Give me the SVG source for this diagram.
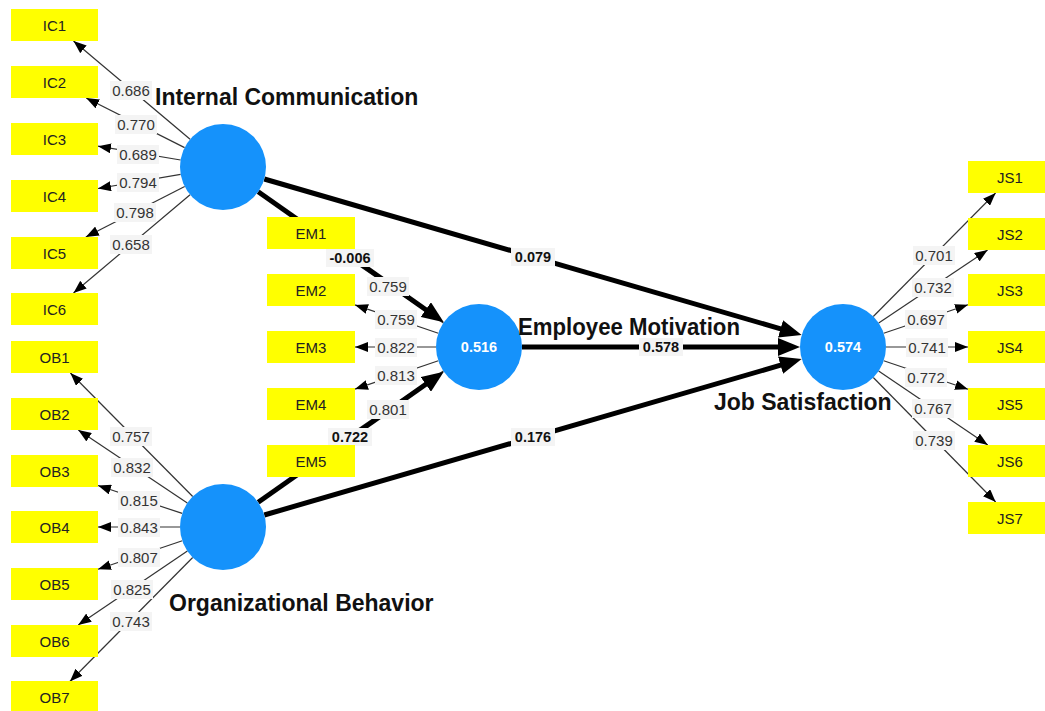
<svg xmlns="http://www.w3.org/2000/svg" width="1045" height="711" viewBox="0 0 1045 711">
<style>
.thin{stroke:#333;stroke-width:1.2;fill:none;marker-end:url(#ah)}
.thick{stroke:#000;stroke-width:5;fill:none;marker-end:url(#ahb)}
.ind{fill:#ffff00}
.it{font-family:"Liberation Sans",Arial,sans-serif;font-size:15px;fill:#222;text-anchor:middle}
.lv{fill:#1592fb}
.lvt{font-family:"Liberation Sans",Arial,sans-serif;font-size:14.5px;font-weight:bold;fill:#fff;text-anchor:middle}
.name{font-family:"Liberation Sans",Arial,sans-serif;font-size:23px;font-weight:bold;fill:#111}
.lb{fill:#f4f4f4}
.lt{font-family:"Liberation Sans",Arial,sans-serif;font-size:15px;fill:#333;text-anchor:middle}
.pt{font-family:"Liberation Sans",Arial,sans-serif;font-size:14.5px;font-weight:bold;fill:#111;text-anchor:middle}
</style>
<defs>
<marker id="ah" markerUnits="userSpaceOnUse" markerWidth="13" markerHeight="10" viewBox="0 0 13 10" refX="13" refY="5" orient="auto"><path d="M0,0L13,5L0,10z" fill="#000"/></marker>
<marker id="ahb" markerUnits="userSpaceOnUse" markerWidth="22" markerHeight="18" viewBox="0 0 22 18" refX="1" refY="9" orient="auto"><path d="M0,0L22,9L0,18z" fill="#000"/></marker>
</defs>
<rect width="1045" height="711" fill="#fff"/>
<g id="connectors">
<path class="thin" d="M190.1,139.3L73.5,41"/>
<path class="thin" d="M184.6,147.6L86.2,98"/>
<path class="thin" d="M180.6,160L98,146.2"/>
<path class="thin" d="M180.6,174.3L98,188.5"/>
<path class="thin" d="M184.7,186.5L85.8,237"/>
<path class="thin" d="M190.1,194.7L73.5,293"/>
<path class="thin" d="M192.7,496.5L70.4,373"/>
<path class="thin" d="M187.3,503.1L78.3,430"/>
<path class="thin" d="M182.2,513.4L98,485.5"/>
<path class="thin" d="M180,527L98,527"/>
<path class="thin" d="M182.3,540.8L98,569.3"/>
<path class="thin" d="M187.4,551.1L78.2,625"/>
<path class="thin" d="M192.7,557.5L69.9,681.5"/>
<path class="thin" d="M443.4,322.9L334.6,249"/>
<path class="thin" d="M438.3,333.2L355,304.9"/>
<path class="thin" d="M436,347L355,347"/>
<path class="thin" d="M438.3,360.8L355,389.1"/>
<path class="thin" d="M443.4,371.1L334.6,445"/>
<path class="thin" d="M873.3,316.5L995.6,193"/>
<path class="thin" d="M878.7,323.1L987.6,250"/>
<path class="thin" d="M883.7,333.2L968,304.7"/>
<path class="thin" d="M886,347L968,347"/>
<path class="thin" d="M883.7,360.8L968,389.3"/>
<path class="thin" d="M878.6,371.1L987.8,445"/>
<path class="thin" d="M873.3,377.5L995.7,502"/>
<path class="thick" d="M258.2,191.7L426.6,310.2"/>
<path class="thick" d="M258.2,502.3L426.6,383.8"/>
<path class="thick" d="M264.3,179L781.5,329.1"/>
<path class="thick" d="M264.3,515L781.5,364.9"/>
<path class="thick" d="M522,347L779,347"/>
<rect class="lb" x="110" y="81" width="42" height="19"/><text class="lt" x="131" y="95.5">0.686</text>
<rect class="lb" x="115" y="115" width="42" height="19"/><text class="lt" x="136" y="129.5">0.770</text>
<rect class="lb" x="117" y="145" width="42" height="19"/><text class="lt" x="138" y="159.5">0.689</text>
<rect class="lb" x="117" y="173" width="42" height="19"/><text class="lt" x="138" y="187.5">0.794</text>
<rect class="lb" x="114" y="203" width="42" height="19"/><text class="lt" x="135" y="217.5">0.798</text>
<rect class="lb" x="110" y="235" width="42" height="19"/><text class="lt" x="131" y="249.5">0.658</text>
<rect class="lb" x="110" y="427" width="42" height="19"/><text class="lt" x="131" y="441.5">0.757</text>
<rect class="lb" x="111" y="458" width="42" height="19"/><text class="lt" x="132" y="472.5">0.832</text>
<rect class="lb" x="118" y="491" width="42" height="19"/><text class="lt" x="139" y="505.5">0.815</text>
<rect class="lb" x="118" y="518" width="42" height="19"/><text class="lt" x="139" y="532.5">0.843</text>
<rect class="lb" x="118" y="548" width="42" height="19"/><text class="lt" x="139" y="562.5">0.807</text>
<rect class="lb" x="111" y="580" width="42" height="19"/><text class="lt" x="132" y="594.5">0.825</text>
<rect class="lb" x="110" y="612" width="42" height="19"/><text class="lt" x="131" y="626.5">0.743</text>
<rect class="lb" x="367" y="277" width="42" height="19"/><text class="lt" x="388" y="291.5">0.759</text>
<rect class="lb" x="375" y="310" width="42" height="19"/><text class="lt" x="396" y="324.5">0.759</text>
<rect class="lb" x="375" y="338" width="42" height="19"/><text class="lt" x="396" y="352.5">0.822</text>
<rect class="lb" x="375" y="366" width="42" height="19"/><text class="lt" x="396" y="380.5">0.813</text>
<rect class="lb" x="367" y="400" width="42" height="19"/><text class="lt" x="388" y="414.5">0.801</text>
<rect class="lb" x="913" y="246" width="42" height="19"/><text class="lt" x="934" y="260.5">0.701</text>
<rect class="lb" x="912" y="278" width="42" height="19"/><text class="lt" x="933" y="292.5">0.732</text>
<rect class="lb" x="905" y="310" width="42" height="19"/><text class="lt" x="926" y="324.5">0.697</text>
<rect class="lb" x="906" y="338" width="42" height="19"/><text class="lt" x="927" y="352.5">0.741</text>
<rect class="lb" x="905" y="368" width="42" height="19"/><text class="lt" x="926" y="382.5">0.772</text>
<rect class="lb" x="912" y="399" width="42" height="19"/><text class="lt" x="933" y="413.5">0.767</text>
<rect class="lb" x="913" y="431" width="42" height="19"/><text class="lt" x="934" y="445.5">0.739</text>
<rect class="lb" x="326" y="249" width="48" height="18"/><text class="pt" x="350" y="263">-0.006</text>
<rect class="lb" x="328" y="428" width="44" height="18"/><text class="pt" x="350" y="442">0.722</text>
<rect class="lb" x="511" y="248" width="44" height="18"/><text class="pt" x="533" y="262">0.079</text>
<rect class="lb" x="511" y="428" width="44" height="18"/><text class="pt" x="533" y="442">0.176</text>
<rect class="lb" x="639" y="338" width="44" height="18"/><text class="pt" x="661" y="352">0.578</text>
</g>
<g id="IC1"><rect class="ind" x="11" y="9" width="87" height="32"/><text class="it" x="54.5" y="30.5">IC1</text></g>
<g id="IC2"><rect class="ind" x="11" y="66" width="87" height="32"/><text class="it" x="54.5" y="87.5">IC2</text></g>
<g id="IC3"><rect class="ind" x="11" y="123" width="87" height="32"/><text class="it" x="54.5" y="144.5">IC3</text></g>
<g id="IC4"><rect class="ind" x="11" y="180" width="87" height="32"/><text class="it" x="54.5" y="201.5">IC4</text></g>
<g id="IC5"><rect class="ind" x="11" y="237" width="87" height="32"/><text class="it" x="54.5" y="258.5">IC5</text></g>
<g id="IC6"><rect class="ind" x="11" y="293" width="87" height="32"/><text class="it" x="54.5" y="314.5">IC6</text></g>
<g id="OB1"><rect class="ind" x="11" y="341" width="87" height="32"/><text class="it" x="54.5" y="362.5">OB1</text></g>
<g id="OB2"><rect class="ind" x="11" y="398" width="87" height="32"/><text class="it" x="54.5" y="419.5">OB2</text></g>
<g id="OB3"><rect class="ind" x="11" y="455" width="87" height="32"/><text class="it" x="54.5" y="476.5">OB3</text></g>
<g id="OB4"><rect class="ind" x="11" y="511" width="87" height="32"/><text class="it" x="54.5" y="532.5">OB4</text></g>
<g id="OB5"><rect class="ind" x="11" y="568" width="87" height="32"/><text class="it" x="54.5" y="589.5">OB5</text></g>
<g id="OB6"><rect class="ind" x="11" y="625" width="87" height="32"/><text class="it" x="54.5" y="646.5">OB6</text></g>
<g id="OB7"><rect class="ind" x="11" y="681" width="87" height="32"/><text class="it" x="54.5" y="702.5">OB7</text></g>
<g id="EM1"><rect class="ind" x="267" y="217" width="88" height="32"/><text class="it" x="311" y="238.5">EM1</text></g>
<g id="EM2"><rect class="ind" x="267" y="274" width="88" height="32"/><text class="it" x="311" y="295.5">EM2</text></g>
<g id="EM3"><rect class="ind" x="267" y="331" width="88" height="32"/><text class="it" x="311" y="352.5">EM3</text></g>
<g id="EM4"><rect class="ind" x="267" y="388" width="88" height="32"/><text class="it" x="311" y="409.5">EM4</text></g>
<g id="EM5"><rect class="ind" x="267" y="445" width="88" height="32"/><text class="it" x="311" y="466.5">EM5</text></g>
<g id="JS1"><rect class="ind" x="968" y="161" width="87" height="32"/><text class="it" x="1010" y="182.5">JS1</text></g>
<g id="JS2"><rect class="ind" x="968" y="218" width="87" height="32"/><text class="it" x="1010" y="239.5">JS2</text></g>
<g id="JS3"><rect class="ind" x="968" y="274" width="87" height="32"/><text class="it" x="1010" y="295.5">JS3</text></g>
<g id="JS4"><rect class="ind" x="968" y="331" width="87" height="32"/><text class="it" x="1010" y="352.5">JS4</text></g>
<g id="JS5"><rect class="ind" x="968" y="388" width="87" height="32"/><text class="it" x="1010" y="409.5">JS5</text></g>
<g id="JS6"><rect class="ind" x="968" y="445" width="87" height="32"/><text class="it" x="1010" y="466.5">JS6</text></g>
<g id="JS7"><rect class="ind" x="968" y="502" width="87" height="32"/><text class="it" x="1010" y="523.5">JS7</text></g>
<g id="InternalCommunication"><circle class="lv" cx="223" cy="167" r="43"/><text class="name" x="155" y="105">Internal Communication</text></g>
<g id="OrganizationalBehavior"><circle class="lv" cx="223" cy="527" r="43"/><text class="name" x="169" y="611">Organizational Behavior</text></g>
<g id="EmployeeMotivation"><circle class="lv" cx="479" cy="347" r="43"/><text class="lvt" x="479" y="352">0.516</text><text class="name" x="518" y="335" textLength="222" lengthAdjust="spacingAndGlyphs">Employee Motivation</text></g>
<g id="JobSatisfaction"><circle class="lv" cx="843" cy="347" r="43"/><text class="lvt" x="843" y="352">0.574</text><text class="name" x="714" y="410">Job Satisfaction</text></g>
</svg>
